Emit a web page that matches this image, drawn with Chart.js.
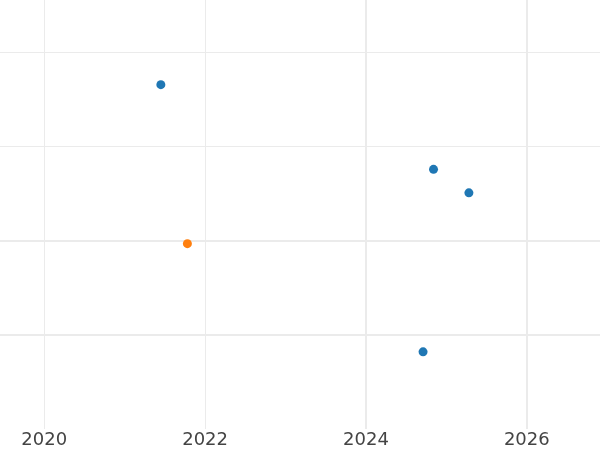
<html>
<head>
    <meta charset="UTF-8">
    <script src="https://cdn.jsdelivr.net/npm/chart.js"></script>
    <style>
        body { margin: 0; background: #fff; }
        .grafico { width: 600px; height: 450px; }
    </style>
</head>
<body>
    <div class="grafico">
        <canvas id="myChart"></canvas>
    </div>
</body>
</html>

<script>
    // pontos
    const azulX = [2021.45, 2024.84, 2025.28, 2024.71];
    const azulY = [3.66, 2.76, 2.51, 0.82];
    const laranjaX = [2021.78];
    const laranjaY = [1.97];
    const xTicks = [2020, 2022, 2024, 2026];
    const yTicks = [1, 2, 3, 4];

    const grafico = document.getElementById('myChart');

    new Chart(grafico, {
        type: 'scatter',
        data: {
            datasets: [{
                label: 'azul',
                data: azulX.map((x, i) => ({ x: x, y: azulY[i] })),
                backgroundColor: '#1f77b4',
                borderColor: '#1f77b4',
                pointRadius: 4.5,
                pointBorderWidth: 0
            }, {
                label: 'laranja',
                data: laranjaX.map((x, i) => ({ x: x, y: laranjaY[i] })),
                backgroundColor: '#ff7f0e',
                borderColor: '#ff7f0e',
                pointRadius: 4.5,
                pointBorderWidth: 0
            }]
        },
        options: {
            responsive: true,
            maintainAspectRatio: false,
            animation: false,
            layout: { padding: 0, autoPadding: false },
            plugins: {
                legend: { display: false },
                tooltip: { enabled: false }
            },
            scales: {
                x: {
                    type: 'linear',
                    min: 2019.45,
                    max: 2026.91,
                    afterBuildTicks: s => { s.ticks = xTicks.map(v => ({ value: v })); },
                    afterFit: s => { s.height = 21; },
                    grid: {
                        color: '#ebebeb',
                        // linhas de 2024 e 2026 saem mais grossas no original
                        lineWidth: ctx => (ctx.index >= 2 ? 2 : 1),
                        drawTicks: false
                    },
                    border: { display: false },
                    ticks: {
                        padding: 1,
                        color: '#444',
                        font: { family: 'DejaVu Sans', size: 18 },
                        callback: v => String(v)
                    }
                },
                y: {
                    min: 0,
                    max: 4.56,
                    afterBuildTicks: s => { s.ticks = yTicks.map(v => ({ value: v })); },
                    afterFit: s => { s.width = 0; },
                    grid: {
                        color: '#ebebeb',
                        lineWidth: ctx => (ctx.index <= 1 ? 2 : 1),
                        drawTicks: false
                    },
                    border: { display: false },
                    ticks: { display: false }
                }
            }
        }
    });
</script>
